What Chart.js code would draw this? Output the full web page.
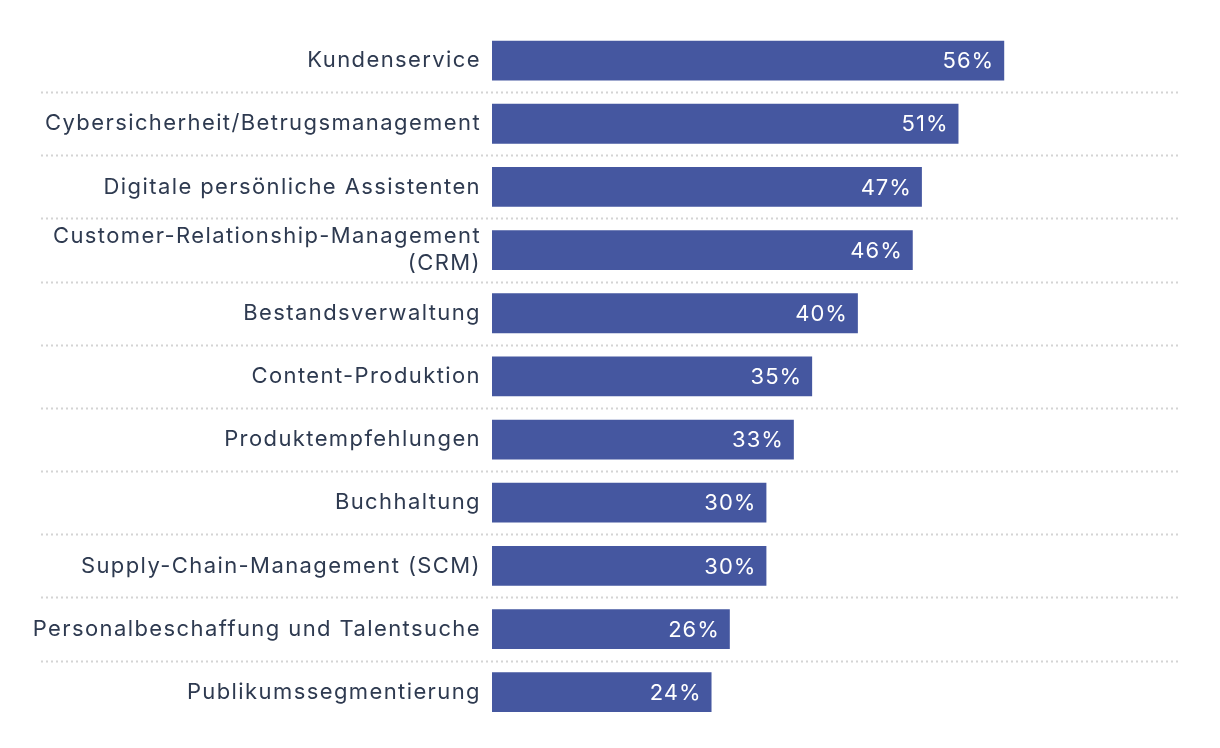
<!DOCTYPE html>
<html>
<head>
<meta charset="utf-8">
<script src="https://cdn.jsdelivr.net/npm/chart.js@4"></script>
<style>
  html, body { margin: 0; padding: 0; background: #fff; }
  #wrap { width: 1220px; height: 748px; }
</style>
</head>
<body>
<div id="wrap"><canvas id="chart" width="1220" height="748"></canvas></div>
<script>
// Daten
const kategorien = [
  'Kundenservice',
  'Cybersicherheit/Betrugsmanagement',
  'Digitale persönliche Assistenten',
  ['Customer-Relationship-Management', '(CRM)'],
  'Bestandsverwaltung',
  'Content-Produktion',
  'Produktempfehlungen',
  'Buchhaltung',
  'Supply-Chain-Management (SCM)',
  'Personalbeschaffung und Talentsuche',
  'Publikumssegmentierung'
];
const anteile = [56, 51, 47, 46, 40, 35, 33, 30, 30, 26, 24];

const schrift = 'Inter, "Noto Sans", sans-serif';
const balkenFarbe = '#4557a0';
const textFarbe = '#2e3a50';

// etwas Laufweite, damit die Schrift breiter wirkt
const laufweite = {
  id: 'laufweite',
  beforeDraw(chart) {
    chart.ctx.letterSpacing = '1.4px';
  }
};

// gepunktete Linien zwischen den Kategorien
const trennLinien = {
  id: 'trennLinien',
  beforeDatasetsDraw(chart) {
    const ctx = chart.ctx;
    const y = chart.scales.y;
    const area = chart.chartArea;
    ctx.save();
    ctx.strokeStyle = '#d4d4d4';
    ctx.lineWidth = 2;
    ctx.setLineDash([2, 3]);
    for (let i = 0; i < kategorien.length - 1; i++) {
      const py = Math.round((y.getPixelForValue(i) + y.getPixelForValue(i + 1)) / 2) + 0.5;
      ctx.beginPath();
      ctx.moveTo(41, py);
      ctx.lineTo(area.right, py);
      ctx.stroke();
    }
    ctx.restore();
  }
};

// Prozentwerte im Balken
const wertLabels = {
  id: 'wertLabels',
  afterDatasetsDraw(chart) {
    const ctx = chart.ctx;
    const meta = chart.getDatasetMeta(0);
    ctx.save();
    ctx.letterSpacing = '1px';
    ctx.fillStyle = '#ffffff';
    ctx.font = '22px ' + schrift;
    ctx.textAlign = 'right';
    ctx.textBaseline = 'middle';
    meta.data.forEach((bar, i) => {
      ctx.fillText(anteile[i] + '%', bar.x - 10, bar.y + 1);
    });
    ctx.restore();
  }
};

new Chart(document.getElementById('chart'), {
  type: 'bar',
  data: {
    labels: kategorien,
    datasets: [{
      data: anteile,
      backgroundColor: balkenFarbe,
      barPercentage: 0.63,
      categoryPercentage: 1.0
    }]
  },
  options: {
    indexAxis: 'y',
    responsive: false,
    animation: false,
    layout: { padding: { top: 29, bottom: 20, left: 0, right: 42 } },
    plugins: {
      legend: { display: false },
      tooltip: { enabled: false }
    },
    scales: {
      x: {
        display: false,
        min: 0,
        max: 75
      },
      y: {
        grid: { display: false, drawTicks: false },
        border: { display: false },
        afterFit(scale) { scale.width = 492; },
        ticks: {
          color: textFarbe,
          padding: 11,
          font: { family: schrift, size: 22 }
        }
      }
    }
  },
  plugins: [laufweite, trennLinien, wertLabels]
});
</script>
</body>
</html>
